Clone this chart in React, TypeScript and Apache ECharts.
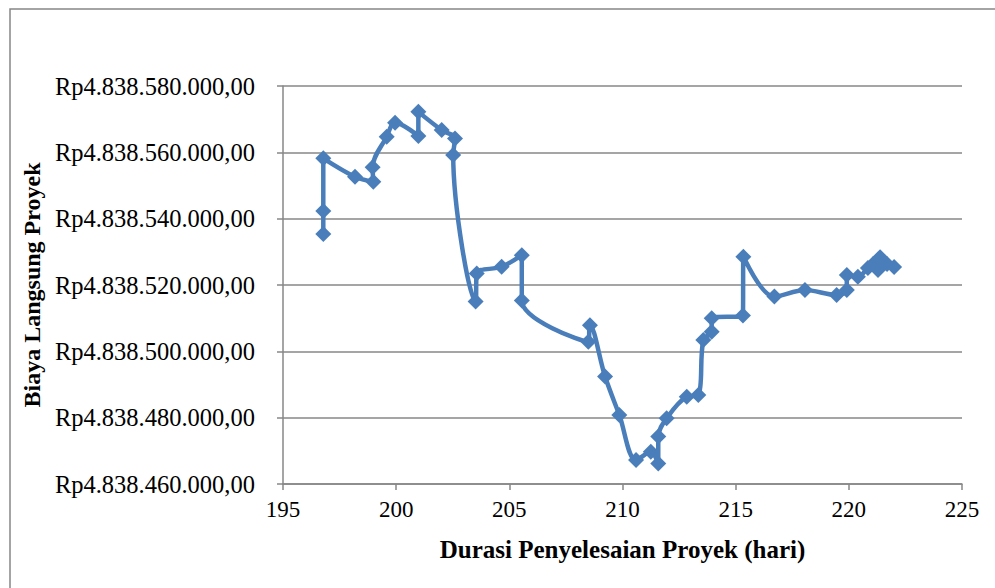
import React, { useEffect, useRef } from "react";
import * as echarts from "echarts";

const durasi: number[] = [
  196.78, 196.78, 196.78, 198.18, 198.99, 198.96, 199.58, 199.95, 200.98, 200.98,
  202.01, 202.6, 202.52, 203.51, 203.56, 204.66, 205.55, 205.55, 208.49, 208.56,
  209.23, 209.86, 210.6, 211.25, 211.58, 211.58, 211.95, 212.84, 213.35, 213.57,
  213.94, 213.94, 215.32, 215.34, 216.71, 218.06, 219.46, 219.91, 219.91, 220.4,
  220.84, 221.07, 221.38, 221.29, 221.69, 222.0,
];
const biaya: number[] = [
  4838535400, 4838542300, 4838558200, 4838552650, 4838551100, 4838555500, 4838564700, 4838568900, 4838564900, 4838572200,
  4838566700, 4838564200, 4838559200, 4838515000, 4838523500, 4838525500, 4838529000, 4838515300, 4838502900, 4838507900,
  4838492400, 4838480800, 4838467200, 4838469700, 4838466200, 4838474300, 4838479800, 4838486300, 4838486800, 4838503400,
  4838505900, 4838510000, 4838510800, 4838528500, 4838516500, 4838518500, 4838517000, 4838518500, 4838523000, 4838522500,
  4838525100, 4838526300, 4838528400, 4838524500, 4838526300, 4838525400,
];
const xTitle = "Durasi Penyelesaian Proyek (hari)";
const yTitle = "Biaya Langsung Proyek";

const fmtRp = (v: number) =>
  "Rp" + Math.round(v).toString().replace(/\B(?=(\d{3})+(?!\d))/g, ".") + ",00";

export default function App() {
  const ref = useRef<HTMLDivElement>(null);
  useEffect(() => {
    if (!ref.current) return;
    const chart = echarts.init(ref.current, null, { renderer: "svg" });
    const font = "'Liberation Serif', 'Times New Roman', serif";
    chart.setOption({
      animation: false,
      backgroundColor: "#ffffff",
      textStyle: { fontFamily: font },
      graphic: [
        {
          type: "rect",
          shape: { x: 10, y: 9, width: 1100, height: 700 },
          style: { fill: "none", stroke: "#878787", lineWidth: 1.5 },
          silent: true,
        },
      ],
      grid: { left: 283, right: 33, top: 86, bottom: 104 },
      xAxis: {
        type: "value",
        min: 195,
        max: 225,
        interval: 5,
        name: xTitle,
        nameLocation: "middle",
        nameGap: 53,
        nameTextStyle: { fontFamily: font, fontWeight: "bold", fontSize: 25, color: "#000" },
        axisLine: { show: true, lineStyle: { color: "#878787", width: 1.5 } },
        axisTick: { show: true, length: 6, lineStyle: { color: "#878787", width: 1.5 } },
        axisLabel: { fontFamily: font, fontSize: 23, color: "#000", margin: 14 },
        splitLine: { show: false },
      },
      yAxis: {
        type: "value",
        min: 4838460000,
        max: 4838580000,
        interval: 20000,
        name: yTitle,
        nameLocation: "middle",
        nameGap: 236,
        nameRotate: 90,
        nameTextStyle: { fontFamily: font, fontWeight: "bold", fontSize: 24, color: "#000" },
        axisLine: { show: true, lineStyle: { color: "#878787", width: 1.5 } },
        axisTick: { show: true, length: 6, lineStyle: { color: "#878787", width: 1.5 } },
        axisLabel: { fontFamily: font, fontSize: 24.5, color: "#000", margin: 28, formatter: fmtRp },
        splitLine: { show: true, lineStyle: { color: "#878787", width: 1.5 } },
      },
      series: [
        {
          type: "line",
          data: durasi.map((x, i) => [x, biaya[i]]),
          smooth: 0.35,
          symbol: "diamond",
          symbolSize: 16,
          lineStyle: { color: "#4A7EBB", width: 4.5 },
          itemStyle: { color: "#4A7EBB" },
        },
      ],
    });
    return () => chart.dispose();
  }, []);
  return (
    <div
      ref={ref}
      style={{ position: "fixed", left: 0, top: 0, width: 995, height: 588 }}
    />
  );
}
